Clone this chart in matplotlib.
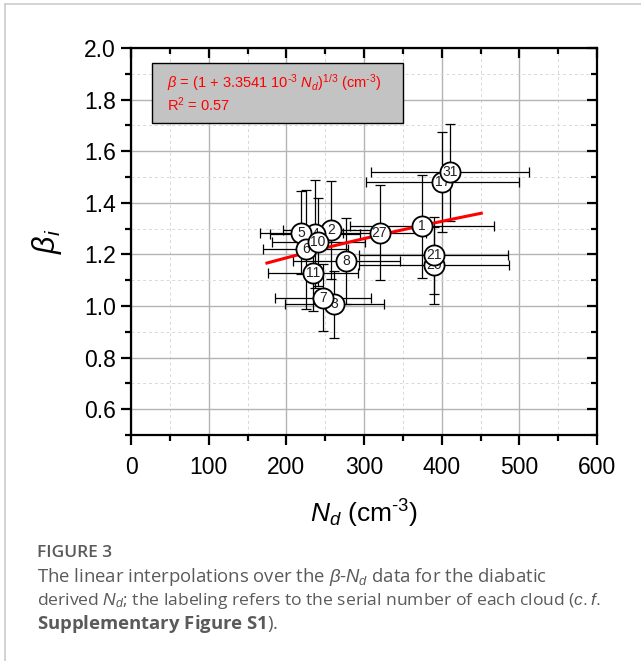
import numpy as np
import matplotlib
matplotlib.use("Agg")
import matplotlib.pyplot as plt
from matplotlib.lines import Line2D
from matplotlib.patches import Rectangle

plt.rcParams['font.family'] = ['Liberation Sans', 'DejaVu Sans']
plt.rcParams['mathtext.fontset'] = 'custom'
plt.rcParams['mathtext.rm'] = 'Liberation Sans'
plt.rcParams['mathtext.it'] = 'Liberation Sans:italic'
plt.rcParams['mathtext.bf'] = 'Open Sans:bold'

# ---- data ----
labels = ['1', '2', '3', '4', '5', '6', '7', '8', '10', '11', '17', '20', '21', '27', '31']
nd     = [375, 258, 262, 237, 219.5, 225, 247, 277, 241, 234.5, 401, 390, 390, 320, 411]
beta   = [1.309, 1.296, 1.007, 1.278, 1.284, 1.219, 1.032, 1.174, 1.247, 1.129, 1.479, 1.157, 1.196, 1.284, 1.518]
nd_err = [93, 62, 64, 58, 53, 55, 62, 69, 60, 58, 99, 97, 96, 60, 102]
b_err  = [0.20, 0.19, 0.13, 0.21, 0.16, 0.23, 0.13, 0.168, 0.17, 0.15, 0.194, 0.15, 0.148, 0.185, 0.188]
fit_coef = 3.3541e-3
fit_range = [175, 451]
xticks = [0, 100, 200, 300, 400, 500, 600]
yticks = [0.6, 0.8, 1.0, 1.2, 1.4, 1.6, 1.8, 2.0]

fig = plt.figure(figsize=(6.41, 6.61), dpi=100)
ax = fig.add_axes([131/641, 1-435/661, (597-131)/641, (435-48)/661])

ax.set_xlim(0, 600)
ax.set_ylim(0.5, 2.0)
ax.set_xticks(xticks)
ax.set_yticks(yticks)
ax.set_xticks(np.arange(50, 600, 100), minor=True)
ax.set_yticks(np.arange(0.5, 2.0, 0.2), minor=True)
ax.set_xticklabels([str(v) for v in xticks])
ax.set_yticklabels([f"{v:.1f}" for v in yticks])

ax.grid(True, which='major', color='#b4b4b4', lw=1.0, ls='-', zorder=0)
ax.grid(True, which='minor', color='#d8d8d8', lw=0.7, ls=(0, (3, 3)), zorder=0)
ax.set_axisbelow(True)

for s in ax.spines.values():
    s.set_linewidth(1.6)
ax.tick_params(which='both', top=True, right=True, labelsize=16.5, width=1.6)
ax.tick_params(which='major', length=7)
ax.tick_params(which='minor', length=4)
ax.tick_params(axis='x', which='both', bottom=True, top=True, pad=8)
ax.tick_params(axis='y', which='both', pad=4)
# bottom/left outward, top/right inward
for t in ax.xaxis.get_major_ticks() + ax.xaxis.get_minor_ticks():
    t.tick2line.set_marker(3)
for t in ax.yaxis.get_major_ticks() + ax.yaxis.get_minor_ticks():
    t.tick2line.set_marker(0)

# error bars
ax.errorbar(nd, beta, xerr=nd_err, yerr=b_err, fmt='none', ecolor='black',
            elinewidth=0.9, capsize=3.5, capthick=0.9, zorder=2)

# fit curve
xf = np.linspace(fit_range[0], fit_range[1], 100)
ax.plot(xf, (1 + fit_coef * xf) ** (1/3), color='#ff0000', lw=2.2, zorder=3)

# circles with labels
for i in range(len(labels)):
    ax.plot(nd[i], beta[i], 'o', ms=14.5, mfc='white', mec='black', mew=1.3, zorder=4 + i*0.01)
    ax.text(nd[i], beta[i], labels[i], ha='center', va='center', fontsize=10,
            color='#222222', zorder=4 + i*0.01 + 0.005)

# equation box
ax.add_patch(Rectangle((26.6, 1.709), 323.4, 0.232, facecolor='#c3c3c3', edgecolor='black',
                       lw=1.0, zorder=5))
ax.text(46, 1.866, "$\\beta$ = (1 + 3.3541 10$^{\u20103}$ $N_d$)$^{1/3}$ (cm$^{\u20103}$)",
        color='#ff0000', fontsize=10.5, ha='left', va='center', zorder=6)
ax.text(46, 1.779, r"R$^2$ = 0.57", color='#ff0000', fontsize=10.5, ha='left', va='center', zorder=6)

ax.set_xlabel("$N_d$ (cm$^{\u20103}$)", fontsize=19, labelpad=14)
ax.set_ylabel(r"$\beta_i$", fontsize=22, labelpad=14)

# page frame lines
fig.add_artist(Line2D([5/641, 1], [1-4/661, 1-4/661], color='#cccccc', lw=1.2, transform=fig.transFigure))
fig.add_artist(Line2D([5/641, 5/641], [0, 1-4/661], color='#cccccc', lw=1.2, transform=fig.transFigure))

# caption
cap_font = ['Open Sans', 'DejaVu Sans']
fig.text(37/641, 1-553/661, "FIGURE 3", fontsize=12.5, color='#5a5a5a', family=cap_font,
         va='center', ha='left', fontweight='semibold')
fig.text(37/641, 1-577/661, r"The linear interpolations over the $\beta$-$N_d$ data for the diabatic",
         fontsize=13.3, color='#5a5a5a', family=cap_font, va='center', ha='left')
fig.text(37/641, 1-601/661, r"derived $N_d$; the labeling refers to the serial number of each cloud ($c{.}f{.}$",
         fontsize=12.6, color='#5a5a5a', family=cap_font, va='center', ha='left')
fig.text(37/641, 1-624/661, r"$\mathbf{Supplementary\ Figure\ S1}$).",
         fontsize=13.3, color='#5a5a5a', family=cap_font, va='center', ha='left')

fig.savefig("out.png", dpi=100)
